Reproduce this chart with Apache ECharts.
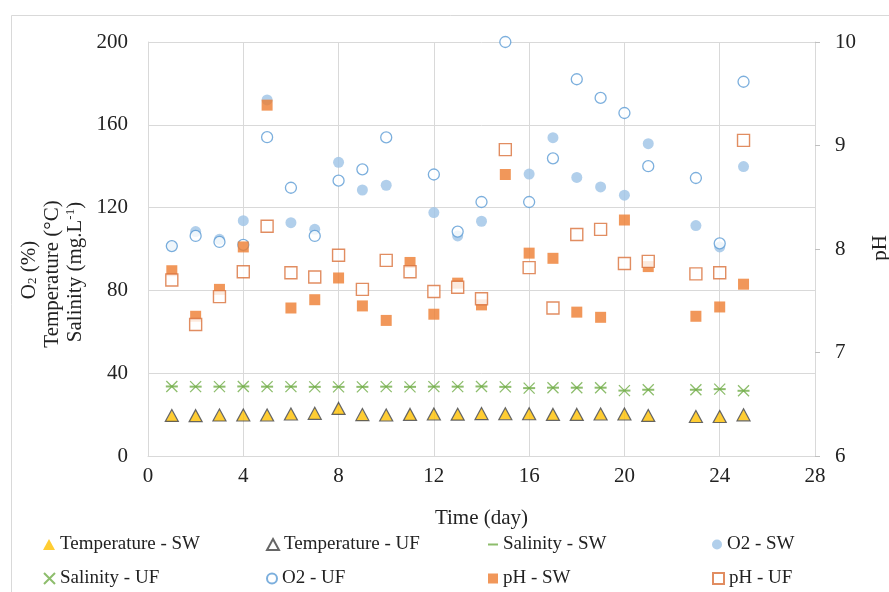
<!DOCTYPE html>
<html>
<head>
<meta charset="utf-8">
<script src="https://cdn.jsdelivr.net/npm/echarts@6/dist/echarts.min.js"></script>
<style>html,body{margin:0;padding:0;background:#fff;}#c{width:889px;height:592px;}</style>
</head>
<body>
<div id="c"></div>
<script>
var days = [1,2,3,4,5,6,7,8,9,10,11,12,13,14,15,16,17,18,19,20,21,22,23,24,25];
var tempSW = [19.3,19.4,19.6,19.7,19.7,20.2,20.5,22.8,19.8,19.7,20.0,20.2,20.1,20.4,20.3,20.3,20.0,20.0,20.2,20.2,19.5,null,19.0,19.0,19.8];
var tempUF = [19.6,19.5,19.8,19.8,19.8,20.3,20.6,23.0,20.0,19.8,20.1,20.3,20.2,20.5,20.4,20.4,20.1,20.1,20.3,20.3,19.6,null,19.1,19.1,19.9];
var salSW  = [33.6,33.5,33.5,33.6,33.5,33.5,33.4,33.4,33.4,33.5,33.4,33.5,33.5,33.6,33.4,32.8,33.0,33.0,33.0,31.6,32.0,null,32.0,32.3,31.5];
var salUF  = [33.6,33.5,33.5,33.6,33.5,33.5,33.4,33.4,33.4,33.5,33.4,33.5,33.5,33.6,33.4,32.8,33.0,33.0,33.0,31.6,32.0,null,32.0,32.3,31.5];
var o2SW   = [101.5,108.4,104.7,113.7,172.0,112.7,109.5,141.9,128.5,130.8,null,117.6,106.3,113.4,null,136.2,153.8,134.6,130.0,126.0,150.9,null,111.3,101.0,139.8];
var o2UF   = [101.4,106.3,103.4,102.0,154.0,129.6,106.3,133.0,138.5,153.9,null,136.0,108.4,122.7,200.0,122.7,143.8,182.0,173.0,165.7,140.0,null,134.3,102.7,180.8];
var phSW   = [7.79,7.35,7.61,8.02,9.39,7.43,7.51,7.72,7.45,7.31,7.87,7.37,7.67,7.46,8.72,7.96,7.91,7.39,7.34,8.28,7.83,null,7.35,7.44,7.66];
var phUF   = [7.70,7.27,7.54,7.78,8.22,7.77,7.73,7.94,7.61,7.89,7.78,7.59,7.63,7.52,8.96,7.82,7.43,8.14,8.19,7.86,7.88,null,7.76,7.77,9.05];
var xTicks = [0,4,8,12,16,20,24,28];

function pairs(arr){
  var out=[];
  for(var i=0;i<days.length;i++){ if(arr[i]!==null) out.push([days[i],arr[i]]); }
  return out;
}
var FONT = '"Liberation Serif","Times New Roman",serif';
var TXT = '#222';
var GRID = '#D9D9D9';

function leg(name, left, top, w, h){
  return {data:[name], left:left, top:top, itemWidth:w, itemHeight:h, padding:0, selectedMode:false,
    textStyle:{fontFamily:FONT, fontSize:19, color:TXT}};
}

var chart = echarts.init(document.getElementById('c'));
chart.setOption({
  animation:false,
  backgroundColor:'#fff',
  grid:{left:148, right:74, top:42, bottom:136, containLabel:false},
  xAxis:{type:'value', min:0, max:28, interval:4,
    axisLine:{show:true, lineStyle:{color:GRID}}, axisTick:{show:false},
    splitLine:{show:true, lineStyle:{color:GRID}},
    axisLabel:{fontFamily:FONT, fontSize:21, color:TXT, margin:10,
      formatter:function(v){ return xTicks.indexOf(v)>=0 ? String(v) : ''; }},
    name:'Time (day)', nameLocation:'middle', nameGap:52,
    nameTextStyle:{fontFamily:FONT, fontSize:21, color:TXT}},
  yAxis:[
    {type:'value', min:0, max:200, interval:40, position:'left',
      axisLine:{show:true, lineStyle:{color:GRID}}, axisTick:{show:false},
      splitLine:{show:true, lineStyle:{color:GRID}},
      axisLabel:{fontFamily:FONT, fontSize:21, color:TXT, margin:20}},
    {type:'value', min:6, max:10, interval:1, position:'right',
      axisLine:{show:true, lineStyle:{color:GRID}},
      axisTick:{show:true, length:5, lineStyle:{color:'#BFBFBF'}},
      splitLine:{show:false},
      axisLabel:{fontFamily:FONT, fontSize:21, color:TXT, margin:20}}
  ],
  legend:[
    leg('Temperature - SW', 43, 535, 12, 11),
    leg('Temperature - UF', 266, 535, 12, 11),
    leg('Salinity - SW', 488, 535, 10, 2),
    leg('O2 - SW', 712, 535, 10, 10),
    leg('Salinity - UF', 43, 569, 11, 11),
    leg('O2 - UF', 266, 569, 10, 10),
    leg('pH - SW', 488, 569, 10, 10),
    leg('pH - UF', 712, 569, 11, 11)
  ],
  graphic:[
    {type:'rect', left:9, top:13, shape:{width:900, height:600}, silent:true,
      style:{fill:'none', stroke:'#D9D9D9', lineWidth:1}, z:-10},
    {type:'text', x:29, y:270, rotation:Math.PI/2, silent:true,
      style:{text:'O{sub|2} (%)', rich:{sub:{fontSize:13, fontFamily:FONT, fill:TXT, verticalAlign:'bottom', padding:[8,0,0,0]}},
        fontFamily:FONT, fontSize:21, fill:TXT, align:'center', verticalAlign:'middle'}},
    {type:'text', x:52, y:274, rotation:Math.PI/2, silent:true,
      style:{text:'Temperature (°C)', fontFamily:FONT, fontSize:21, fill:TXT, align:'center', verticalAlign:'middle'}},
    {type:'text', x:75, y:272, rotation:Math.PI/2, silent:true,
      style:{text:'Salinity (mg.L{sup|-1})', rich:{sup:{fontSize:13, fontFamily:FONT, fill:TXT, verticalAlign:'top', padding:[0,0,8,0]}},
        fontFamily:FONT, fontSize:21, fill:TXT, align:'center', verticalAlign:'middle'}},
    {type:'text', x:880, y:248, rotation:Math.PI/2, silent:true,
      style:{text:'pH', fontFamily:FONT, fontSize:21, fill:TXT, align:'center', verticalAlign:'middle'}}
  ],
  series:[
    {name:'Temperature - SW', type:'scatter', yAxisIndex:0, data:pairs(tempSW), symbol:'triangle', symbolSize:[12,11],
      itemStyle:{color:'#FFC000'}},
    {name:'Temperature - UF', type:'scatter', yAxisIndex:0, data:pairs(tempUF), symbol:'triangle', symbolSize:[13,12],
      itemStyle:{color:'rgba(0,0,0,0)', borderColor:'#404040', borderWidth:1.2}},
    {name:'Salinity - SW', type:'scatter', yAxisIndex:0, data:pairs(salSW), symbol:'rect', symbolSize:[12,2],
      itemStyle:{color:'#70AD47'}},
    {name:'O2 - SW', type:'scatter', yAxisIndex:0, data:pairs(o2SW), symbol:'circle', symbolSize:11,
      itemStyle:{color:'#9DC3E6'}},
    {name:'Salinity - UF', type:'scatter', yAxisIndex:0, data:pairs(salUF), symbol:'path://M0,0L10,10M10,0L0,10', symbolSize:11,
      itemStyle:{color:'rgba(0,0,0,0)', borderColor:'#70AD47', borderWidth:1.3}},
    {name:'O2 - UF', type:'scatter', yAxisIndex:0, data:pairs(o2UF), symbol:'circle', symbolSize:11,
      itemStyle:{color:'#fff', borderColor:'#5B9BD5', borderWidth:1.3}},
    {name:'pH - SW', type:'scatter', yAxisIndex:1, data:pairs(phSW), symbol:'rect', symbolSize:11,
      itemStyle:{color:'#ED7D31'}},
    {name:'pH - UF', type:'scatter', yAxisIndex:1, data:pairs(phUF), symbol:'rect', symbolSize:12,
      itemStyle:{color:'#fff', borderColor:'#D9703A', borderWidth:1.4}}
  ]
});
</script>
</body>
</html>
